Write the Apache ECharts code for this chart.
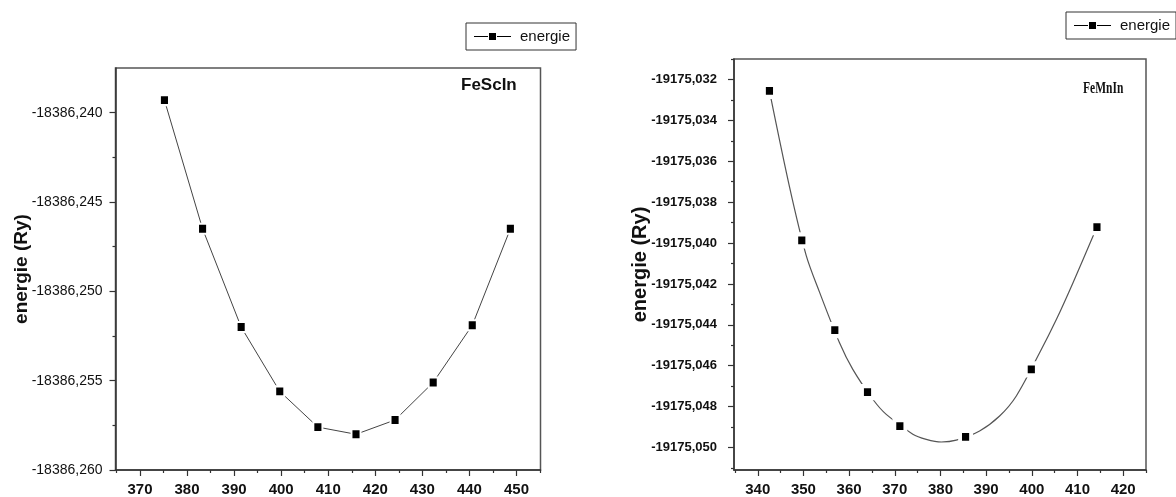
<!DOCTYPE html>
<html><head><meta charset="utf-8">
<script src="https://cdn.jsdelivr.net/npm/echarts@6/dist/echarts.min.js"></script>
<style>html,body{margin:0;padding:0;background:#fff}#c{width:1176px;height:497px}</style>
</head><body><div id="c"></div>
<script>
// ---- Left panel: FeScIn ----
const scVolume = [375.2, 383.3, 391.5, 399.7, 407.8, 415.9, 424.2, 432.3, 440.6, 448.7];
const scEnergy = [-18386.2393, -18386.2465, -18386.2520, -18386.2556, -18386.2576, -18386.2580, -18386.2572, -18386.2551, -18386.2519, -18386.2465];
const scXTicks = [370, 380, 390, 400, 410, 420, 430, 440, 450];
const scXMinor = [365, 375, 385, 395, 405, 415, 425, 435, 445, 455];
const scYTicks = [-18386.260, -18386.255, -18386.250, -18386.245, -18386.240];
const scYMinor = [-18386.2575, -18386.2525, -18386.2475, -18386.2425];

// ---- Right panel: FeMnIn ----
const mnVolume = [342.56, 349.64, 356.87, 364.03, 371.11, 385.50, 399.89, 414.26];
const mnEnergy = [-19175.03256, -19175.03987, -19175.04426, -19175.04729, -19175.04895, -19175.04948, -19175.04618, -19175.03922];
// fitted curve
const fitVolume = [342.56, 346.94, 350.60, 353.52, 357.90, 360.81, 365.19, 368.13, 373.95, 376.89, 380.18, 383.46, 388.57, 392.95, 396.61, 401.71, 405.37, 409.00, 414.26];
const fitEnergy = [-19175.03256, -19175.03724, -19175.04060, -19175.04240, -19175.04488, -19175.04618, -19175.04764, -19175.04838, -19175.04935, -19175.04960, -19175.04973, -19175.04964, -19175.04919, -19175.04846, -19175.04748, -19175.04537, -19175.04374, -19175.04195, -19175.03922];
const mnXTicks = [340, 350, 360, 370, 380, 390, 400, 410, 420];
const mnXMinor = [335, 345, 355, 365, 375, 385, 395, 405, 415, 425];
const mnYTicks = [-19175.050, -19175.048, -19175.046, -19175.044, -19175.042, -19175.040, -19175.038, -19175.036, -19175.034, -19175.032];
const mnYMinor = [-19175.051, -19175.049, -19175.047, -19175.045, -19175.043, -19175.041, -19175.039, -19175.037, -19175.035, -19175.033, -19175.031];

const titles = ['FeScIn', 'FeMnIn'];
const seriesName = 'energie';
const yName = 'energie (Ry)';

const sans = "'Liberation Sans', Arial, sans-serif";
const axisColor = '#333';
const legendIcon = 'path://M0,3.5L14,3.5L14,4.5L0,4.5Z M15,0.5L22,0.5L22,7.5L15,7.5Z M23,3.5L37,3.5L37,4.5L23,4.5Z';

function fmt(v) { return '-' + Math.abs(v).toFixed(3).replace('.', ','); }

function xMain(grid, min, max, ticks) {
  return {
    type: 'value', gridIndex: grid, min: min, max: max, position: 'bottom',
    axisLine: { show: true, onZero: false, lineStyle: { color: axisColor, width: 1.5 } },
    axisTick: { show: true, inside: false, length: 6, customValues: ticks, lineStyle: { color: axisColor, width: 1.2 } },
    axisLabel: { customValues: ticks, margin: 12, color: '#111', fontFamily: sans, fontWeight: 'bold', fontSize: 15 },
    splitLine: { show: false }
  };
}
function xMinor(grid, min, max, ticks) {
  return {
    type: 'value', gridIndex: grid, min: min, max: max, position: 'bottom',
    axisLine: { show: false, onZero: false },
    axisTick: { show: true, inside: false, length: 3, customValues: ticks, lineStyle: { color: axisColor, width: 1.2 } },
    axisLabel: { show: false }, splitLine: { show: false }
  };
}
function yMain(grid, min, max, ticks, weight, size, margin, gap, nameSize) {
  return {
    type: 'value', gridIndex: grid, min: min, max: max, position: 'left', scale: true,
    name: yName, nameLocation: 'middle', nameRotate: 90, nameGap: gap, nameMoveOverlap: false,
    nameTextStyle: { fontFamily: sans, fontWeight: 'bold', fontSize: nameSize, color: '#111' },
    axisLine: { show: true, onZero: false, lineStyle: { color: axisColor, width: 1.5 } },
    axisTick: { show: true, inside: false, length: 6, customValues: ticks, lineStyle: { color: axisColor, width: 1.2 } },
    axisLabel: { customValues: ticks, margin: margin, formatter: fmt, color: '#111', fontFamily: sans, fontWeight: weight, fontSize: size },
    splitLine: { show: false }
  };
}
function yMinor(grid, min, max, ticks) {
  return {
    type: 'value', gridIndex: grid, min: min, max: max, position: 'left', scale: true,
    axisLine: { show: false, onZero: false },
    axisTick: { show: true, inside: false, length: 3, customValues: ticks, lineStyle: { color: axisColor, width: 1.2 } },
    axisLabel: { show: false }, splitLine: { show: false }
  };
}
function legendAt(left, top) {
  return {
    left: left, top: top, padding: [6, 6, 6, 8], itemGap: 5, itemWidth: 37, itemHeight: 8,
    borderColor: '#333', borderWidth: 1, borderRadius: 0,
    itemStyle: { borderWidth: 0, color: '#000' },
    data: [{ name: seriesName, icon: legendIcon }],
    textStyle: { fontFamily: sans, fontSize: 15, color: '#111', padding: [0, 0, 0, 4] }
  };
}

const chart = echarts.init(document.getElementById('c'), null, { renderer: 'canvas' });
chart.setOption({
  backgroundColor: '#fff',
  animation: false,
  grid: [
    { left: 115.5, top: 68, width: 425, height: 402, show: true, borderColor: '#555', borderWidth: 1.5, containLabel: false },
    { left: 734, top: 59, width: 412, height: 411, show: true, borderColor: '#555', borderWidth: 1.5, containLabel: false }
  ],
  xAxis: [
    xMain(0, 364.8, 455.1, scXTicks), xMinor(0, 364.8, 455.1, scXMinor),
    xMain(1, 334.8, 425.0, mnXTicks), xMinor(1, 334.8, 425.0, mnXMinor)
  ],
  yAxis: [
    yMain(0, -18386.260, -18386.2375, scYTicks, 'normal', 14, 13, 84, 19), yMinor(0, -18386.260, -18386.2375, scYMinor),
    yMain(1, -19175.0511, -19175.0310, mnYTicks, 'bold', 13, 17, 84, 20), yMinor(1, -19175.0511, -19175.0310, mnYMinor)
  ],
  legend: [legendAt(466, 23), legendAt(1066, 12)],
  graphic: [
    { type: 'text', left: 461, top: 77, style: { text: titles[0], font: "bold 17px 'Liberation Sans', Arial, sans-serif", fill: '#111' } },
    { type: 'text', x: 1083, y: 81, scaleX: 0.72, style: { text: titles[1], font: "bold 16px 'Liberation Serif', 'Times New Roman', serif", fill: '#111' } }
  ],
  series: [
    { name: seriesName, type: 'line', xAxisIndex: 0, yAxisIndex: 0,
      data: scVolume.map((v, i) => [v, scEnergy[i]]),
      symbol: 'rect', symbolSize: [9, 10], showSymbol: true,
      lineStyle: { color: '#444', width: 1 },
      itemStyle: { color: '#000', borderColor: '#fff', borderWidth: 2 }, z: 3 },
    { name: 'fit', type: 'line', xAxisIndex: 2, yAxisIndex: 2,
      data: fitVolume.map((v, i) => [v, fitEnergy[i]]),
      smooth: 0.3, symbol: 'none', lineStyle: { color: '#555', width: 1.2 }, z: 2 },
    { name: seriesName, type: 'scatter', xAxisIndex: 2, yAxisIndex: 2,
      data: mnVolume.map((v, i) => [v, mnEnergy[i]]),
      symbol: 'rect', symbolSize: [11, 12],
      itemStyle: { color: '#000', borderColor: '#fff', borderWidth: 4, opacity: 1 }, z: 4 }
  ]
});
</script></body></html>
